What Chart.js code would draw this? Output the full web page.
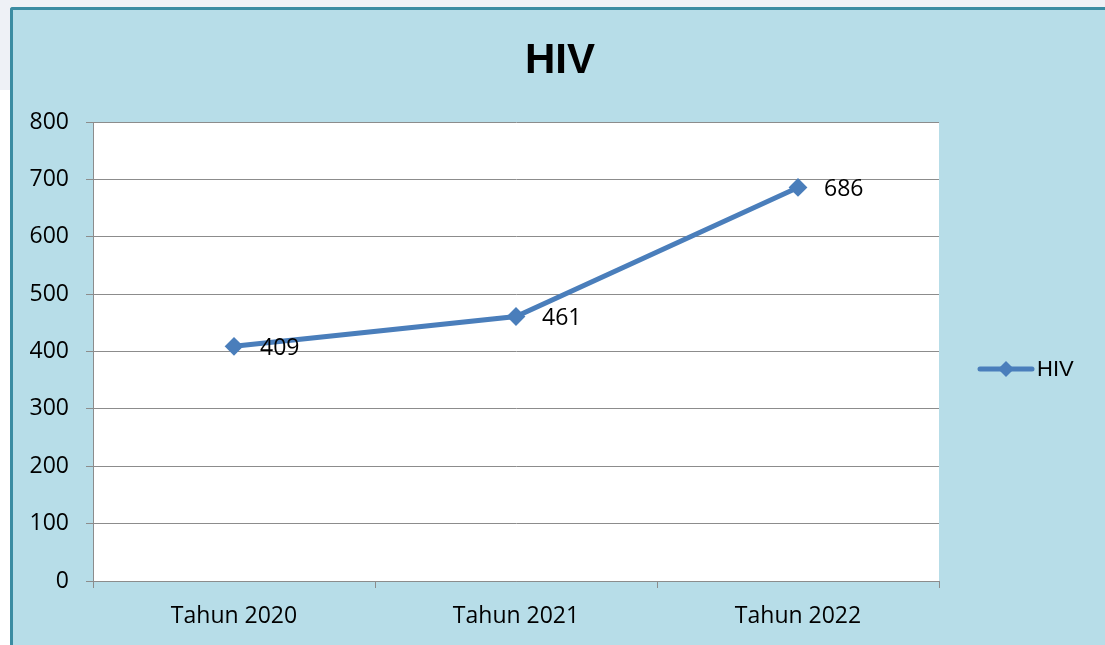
<!DOCTYPE html>
<html>
<head>
<meta charset="utf-8">
<script src="https://cdn.jsdelivr.net/npm/chart.js@4"></script>
<style>
  html, body { margin: 0; padding: 0; width: 1105px; height: 645px; overflow: hidden; background: #ffffff; }
  #topStrip { position: absolute; left: 0; top: 0; width: 1105px; height: 8px; background: #eef1f6; }
  #leftStrip { position: absolute; left: 0; top: 0; width: 11px; height: 90px; background: #eef1f6; }
  #frame { position: absolute; left: 10px; top: 7px; width: 1120px; height: 660px; background: #b7dde8;
           border-left: 3px solid #3b8ca2; border-top: 3px solid #3b8ca2; border-top-left-radius: 3px; }
  #wrap { position: absolute; left: 0; top: 0; width: 1105px; height: 645px; }
</style>
</head>
<body>
<div id="topStrip"></div>
<div id="leftStrip"></div>
<div id="frame"></div>
<div id="wrap"><canvas id="c" width="1105" height="645"></canvas></div>
<script>
const chartTitle = "HIV";
const categories = ["Tahun 2020", "Tahun 2021", "Tahun 2022"];
const seriesName = "HIV";
const seriesValues = [409, 461, 686];
const yTicks = [0, 100, 200, 300, 400, 500, 600, 700, 800];

const lineColor = "#4a7ebb";
const gridColor = "#8c8c8c";
const tickFont = { family: "'Open Sans', sans-serif", size: 23 };

const plotBg = {
  id: "plotBg",
  beforeDraw(chart) {
    const { ctx, chartArea: a } = chart;
    ctx.save();
    ctx.fillStyle = "#ffffff";
    ctx.fillRect(a.left, a.top, a.right - a.left, a.bottom - a.top);
    ctx.restore();
  }
};

const labelsAndLegend = {
  id: "labelsAndLegend",
  afterDatasetsDraw(chart) {
    const { ctx } = chart;
    const meta = chart.getDatasetMeta(0);
    ctx.save();
    // title
    ctx.fillStyle = "#000000";
    ctx.font = "bold 42px 'Liberation Sans', Arial, sans-serif";
    ctx.textAlign = "center";
    ctx.textBaseline = "middle";
    ctx.fillText(chartTitle, 560, 61);
    // data labels
    ctx.font = "23px 'Open Sans', sans-serif";
    ctx.textAlign = "left";
    meta.data.forEach((pt, i) => {
      ctx.fillText(String(chart.data.datasets[0].data[i]), pt.x + 26, pt.y + 2);
    });
    // legend
    const ly = 369;
    ctx.strokeStyle = lineColor;
    ctx.lineWidth = 5;
    ctx.lineCap = "round";
    ctx.beginPath();
    ctx.moveTo(980, ly);
    ctx.lineTo(1032, ly);
    ctx.stroke();
    ctx.fillStyle = lineColor;
    ctx.beginPath();
    ctx.moveTo(1006, ly - 8);
    ctx.lineTo(1014, ly);
    ctx.lineTo(1006, ly + 8);
    ctx.lineTo(998, ly);
    ctx.closePath();
    ctx.fill();
    ctx.fillStyle = "#000000";
    ctx.font = "22px 'Liberation Sans', Arial, sans-serif";
    ctx.fillText(chart.data.datasets[0].label, 1037, ly + 1);
    ctx.restore();
  }
};

new Chart(document.getElementById("c"), {
  type: "line",
  data: {
    labels: categories,
    datasets: [{
      label: seriesName,
      data: seriesValues,
      borderColor: lineColor,
      backgroundColor: lineColor,
      borderWidth: 5,
      pointStyle: "rectRot",
      pointRadius: 8,
      pointBorderWidth: 2,
      pointBackgroundColor: lineColor,
      pointBorderColor: lineColor,
      tension: 0
    }]
  },
  options: {
    responsive: false,
    animation: false,
    devicePixelRatio: 1,
    layout: { padding: { left: 0, right: 166, top: 122, bottom: 0 } },
    plugins: {
      legend: { display: false },
      tooltip: { enabled: false },
      title: { display: false }
    },
    scales: {
      x: {
        type: "category",
        offset: true,
        grid: { offset: true, drawOnChartArea: false, drawTicks: true, tickLength: 7, color: gridColor, lineWidth: 1 },
        border: { display: true, color: gridColor, width: 1 },
        ticks: { color: "#000000", font: tickFont, padding: 15, maxRotation: 0 },
        afterFit(s) { s.height = 64; }
      },
      y: {
        min: 0,
        max: 800,
        afterBuildTicks(s) { s.ticks = yTicks.map(v => ({ value: v })); },
        grid: { color: gridColor, lineWidth: 1, tickLength: 7, drawTicks: true },
        border: { display: true, color: gridColor, width: 1 },
        ticks: { color: "#000000", font: tickFont, padding: 17 },
        afterFit(s) { s.width = 93; }
      }
    }
  },
  plugins: [plotBg, labelsAndLegend]
});
</script>
</body>
</html>
